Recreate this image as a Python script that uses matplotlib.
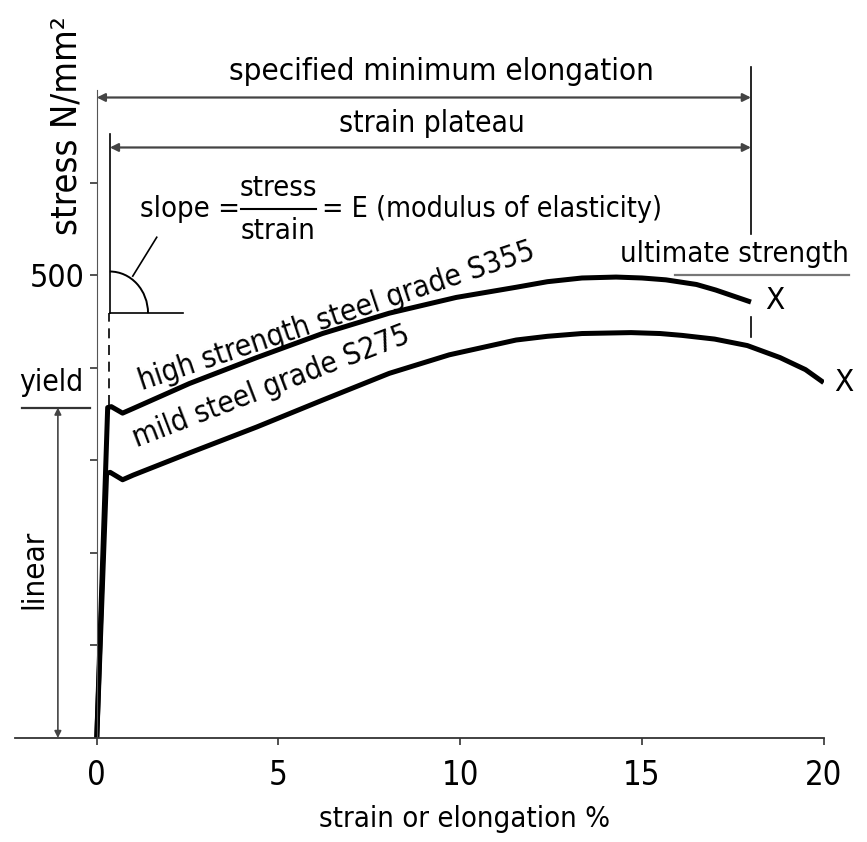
import numpy as np
import matplotlib.pyplot as plt
from matplotlib.patches import Arc

plt.rcParams['font.family'] = ['DejaVu Sans']
plt.rcParams['font.stretch'] = 'condensed'

# stress-strain curves (strain %, stress N/mm2)
high_strain = [0.0, 0.30, 0.40, 0.71, 1.0, 2.55, 4.40, 6.21, 8.05, 9.89, 11.54, 12.4, 13.35, 14.29, 15.0, 15.66, 16.5, 17.03, 18.0]
high_stress = [0, 357, 358, 351, 356, 383, 411, 437, 459, 476, 487, 493, 497, 498, 497, 495, 490, 484, 471]
mild_strain = [0.0, 0.27, 0.37, 0.71, 1.0, 2.55, 4.40, 6.21, 8.05, 9.70, 11.54, 12.4, 13.35, 14.7, 15.5, 16.1, 17.0, 17.9, 18.8, 19.5, 20.0]
mild_stress = [0, 286, 287, 279, 284, 308, 336, 365, 394, 414, 430, 434, 437, 438, 437, 435, 431, 424, 411, 398, 384]

yield_stress = 357
ultimate_stress = 500
min_elongation = 18.0
plateau_start = 0.36
y_ticks = [100, 200, 300, 400, 500, 600]
y_labels = ['', '', '', '', '500', '']
x_ticks = [0, 5, 10, 15, 20]

fs = 22.5
fig = plt.figure(figsize=(8.67, 8.42), dpi=100)
ax = fig.add_axes([0.0173, 0.1235, 0.9327, 0.7695])
ax.set_xlim(-2.25, 20)
ax.set_ylim(0, 700)

for s in ['top', 'right']:
    ax.spines[s].set_visible(False)
ax.spines['left'].set_position(('data', 0))
ax.spines['left'].set_bounds(0, 700)
ax.spines['left'].set_color('#555555')
ax.spines['bottom'].set_color('#333333')
ax.spines['bottom'].set_linewidth(1.3)

ax.set_yticks(y_ticks)
ax.set_yticklabels(y_labels, fontsize=23)
ax.set_xticks(x_ticks)
ax.set_xticklabels([str(t) for t in x_ticks], fontsize=23.5)
ax.tick_params(axis='both', length=5, width=1.2, color='#333333')
ax.tick_params(axis='x', pad=10)
ax.tick_params(axis='y', pad=4)
ax.set_xlabel('strain or elongation %', fontsize=21)
ax.xaxis.set_label_coords(0.556, -0.103)

# curves
ax.plot(high_strain, high_stress, color='black', lw=3.6, solid_capstyle='butt', solid_joinstyle='round')
ax.plot(mild_strain, mild_stress, color='black', lw=3.6, solid_capstyle='butt', solid_joinstyle='round')
ax.text(18.4, 473, 'X', fontsize=fs, va='center', ha='left')
ax.text(20.3, 384, 'X', fontsize=fs, va='center', ha='left', clip_on=False)

ax.text(6.6, 456, 'high strength steel grade S355', fontsize=21.5, rotation=18.5,
        ha='center', va='center', rotation_mode='anchor')
ax.text(4.8, 380, 'mild steel grade S275', fontsize=21.5, rotation=21,
        ha='center', va='center', rotation_mode='anchor')

# dimension arrows
arrow_kw = dict(arrowstyle='<|-|>', color='#444444', lw=1.6, mutation_scale=12, shrinkA=0, shrinkB=0)
ax.annotate('', xy=(0, 692), xytext=(min_elongation, 692), arrowprops=arrow_kw, annotation_clip=False)
ax.annotate('', xy=(plateau_start, 638), xytext=(min_elongation, 638), arrowprops=arrow_kw, annotation_clip=False)
ax.text(9.48, 720, 'specified minimum elongation', fontsize=fs, ha='center', va='center', clip_on=False)
ax.text(9.23, 664, 'strain plateau', fontsize=21.5, ha='center', va='center')
ax.plot([min_elongation, min_elongation], [545, 725], color='black', lw=1.2, clip_on=False)
ax.plot([min_elongation, min_elongation], [433, 455], color='black', lw=1.2)
ax.plot([plateau_start, plateau_start], [459, 653], color='black', lw=1.2)
ax.plot([0.33, 0.33], [360, 459], color='black', lw=1.2, ls=(0, (6, 4)))

# slope symbol
sfs = 21
ax.plot([plateau_start, 2.36], [459, 459], color='black', lw=1.2)
ax.add_patch(Arc((plateau_start, 459), 2.1, 90, theta1=0, theta2=90, color='black', lw=1.4))
ax.plot([0.99, 1.65], [499, 541], color='black', lw=1.2)
ax.text(1.18, 572, 'slope =', fontsize=sfs, ha='left', va='center')
ax.text(5.0, 594, 'stress', fontsize=sfs, ha='center', va='center')
ax.plot([3.98, 6.04], [572, 572], color='black', lw=1.5)
ax.text(5.0, 548, 'strain', fontsize=sfs, ha='center', va='center')
ax.text(6.2, 572, '= E (modulus of elasticity)', fontsize=20.5, ha='left', va='center')

# ultimate strength
ax.plot([15.9, 20.7], [ultimate_stress, ultimate_stress], color='#777777', lw=1.6, clip_on=False)
ax.text(20.7, 523, 'ultimate strength', fontsize=21, ha='right', va='center', clip_on=False)

# yield and linear
ax.plot([-2.06, -0.19], [yield_stress, yield_stress], color='#333333', lw=1.6)
ax.text(-1.24, 384, 'yield', fontsize=21.5, ha='center', va='center')
ax.annotate('', xy=(-1.07, yield_stress), xytext=(-1.07, 0),
            arrowprops=dict(arrowstyle='<|-|>', color='#444444', lw=1.2, mutation_scale=10, shrinkA=0, shrinkB=0))
ax.text(-1.72, 182, 'linear', fontsize=fs, rotation=90, ha='center', va='center')
ax.text(-0.82, 662, 'stress N/mm\u00b2', fontsize=26, rotation=90, ha='center', va='center', clip_on=False)

fig.savefig('out.png', dpi=100)
